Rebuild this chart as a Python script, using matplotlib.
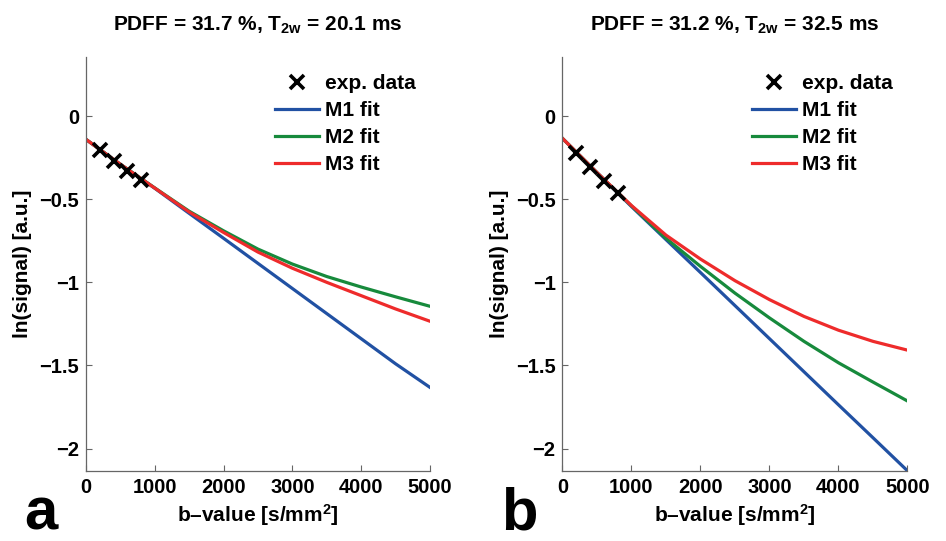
import numpy as np
import matplotlib
matplotlib.use("Agg")
import matplotlib.pyplot as plt

plt.rcParams["font.family"] = ["Liberation Sans", "DejaVu Sans"]
plt.rcParams["font.weight"] = "bold"
plt.rcParams["mathtext.fontset"] = "custom"
plt.rcParams["mathtext.rm"] = "Liberation Sans:bold"
plt.rcParams["mathtext.bf"] = "Liberation Sans:bold"
plt.rcParams["mathtext.default"] = "bf"

# measured points (b-values in s/mm^2)
b_exp = [200, 400, 600, 800]
exp_a = [-0.204, -0.268, -0.328, -0.384]
exp_b = [-0.224, -0.304, -0.388, -0.464]

# fitted curves, every 500 s/mm^2
b_fit = [0, 500, 1000, 1500, 2000, 2500, 3000, 3500, 4000, 4500, 5000]
m1_a = [-0.14, -0.29, -0.434, -0.585, -0.735, -0.886, -1.037, -1.188, -1.339, -1.49, -1.632]
m2_a = [-0.14, -0.29, -0.432, -0.572, -0.69, -0.80, -0.89, -0.965, -1.028, -1.087, -1.144]
m3_a = [-0.14, -0.29, -0.433, -0.577, -0.70, -0.818, -0.915, -1.00, -1.08, -1.16, -1.234]

m1_b = [-0.134, -0.34, -0.544, -0.743, -0.941, -1.14, -1.339, -1.538, -1.737, -1.935, -2.134]
m2_b = [-0.134, -0.34, -0.54, -0.735, -0.904, -1.065, -1.214, -1.355, -1.484, -1.60, -1.714]
m3_b = [-0.134, -0.34, -0.538, -0.716, -0.86, -0.99, -1.104, -1.205, -1.288, -1.355, -1.408]

titles = [r"PDFF = 31.7 %, T$_{2w}$ = 20.1 ms", r"PDFF = 31.2 %, T$_{2w}$ = 32.5 ms"]
panel_letters = ["a", "b"]
xticks = [0, 1000, 2000, 3000, 4000, 5000]
yticks = [0, -0.5, -1, -1.5, -2]
ytick_labels = ["0", "\u22120.5", "\u22121", "\u22121.5", "\u22122"]

c_m1 = "#2151a3"
c_m2 = "#178a3c"
c_m3 = "#ee2b2b"

fig = plt.figure(figsize=(9.46, 5.41), dpi=100)
ax_a = fig.add_axes([0.0909, 0.1294, 0.3636, 0.765])
ax_b = fig.add_axes([0.5946, 0.1294, 0.3647, 0.765])

panels = [
    (ax_a, exp_a, m1_a, m2_a, m3_a),
    (ax_b, exp_b, m1_b, m2_b, m3_b),
]

for i, (ax, ex, m1, m2, m3) in enumerate(panels):
    ax.plot(b_exp, ex, "x", color="black", ms=10, mew=2.6, label="exp. data", zorder=5)
    ax.plot(b_fit, m1, color=c_m1, lw=2.3, label="M1 fit")
    ax.plot(b_fit, m2, color=c_m2, lw=2.3, label="M2 fit")
    ax.plot(b_fit, m3, color=c_m3, lw=2.3, label="M3 fit")

    ax.set_xlim(0, 5000)
    ax.set_ylim(-2.135, 0.355)
    ax.set_xticks(xticks)
    ax.set_xticklabels([str(t) for t in xticks], fontsize=14.5, fontweight="bold")
    ax.set_yticks(yticks)
    ax.set_yticklabels(ytick_labels, fontsize=14.5, fontweight="bold")
    ax.tick_params(direction="in", length=4, width=0.8, color="#666666", pad=5)
    for s in ["top", "right"]:
        ax.spines[s].set_visible(False)
    for s in ["left", "bottom"]:
        ax.spines[s].set_color("#666666")
        ax.spines[s].set_linewidth(0.9)

    ax.set_xlabel("b\u2013value [s/mm$^2$]", fontsize=15, fontweight="bold", labelpad=4)
    ax.set_ylabel("ln(signal) [a.u.]", fontsize=15, fontweight="bold", labelpad=5)
    ax.set_title(titles[i], fontsize=15, fontweight="bold", pad=19)

    leg = ax.legend(loc="upper left", bbox_to_anchor=(0.55, 0.959), frameon=False,
                    fontsize=15, handlelength=2.1, handletextpad=0.3,
                    borderpad=0, borderaxespad=0, labelspacing=0.38)
    for t in leg.get_texts():
        t.set_fontweight("bold")

fig.text(0.026, 0.0, panel_letters[0], fontsize=43, fontweight="bold", ha="left", va="bottom")
fig.text(0.530, 0.0, panel_letters[1], fontsize=43, fontweight="bold", ha="left", va="bottom")

fig.savefig("out.png", dpi=100)
